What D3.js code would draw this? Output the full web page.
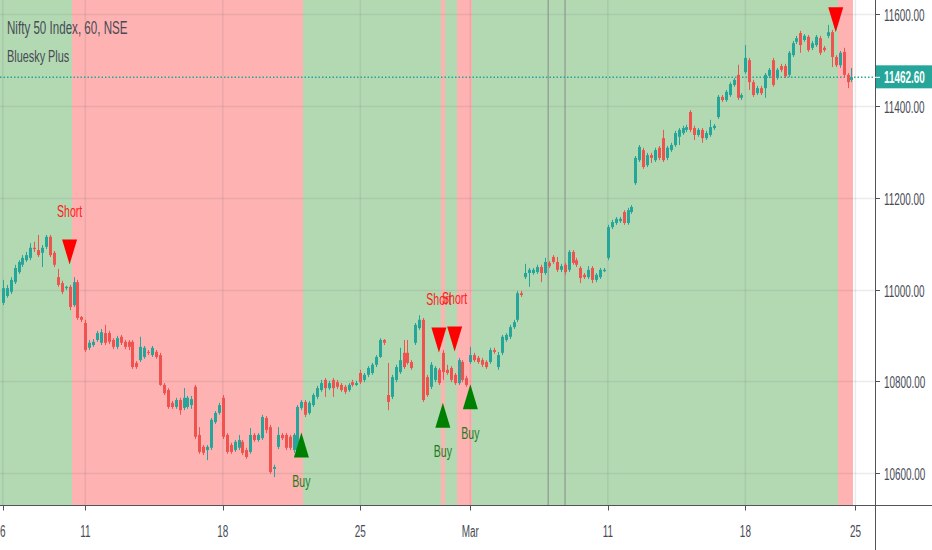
<!DOCTYPE html>
<html><head><meta charset="utf-8">
<script src="https://cdn.jsdelivr.net/npm/d3@7"></script>
<style>
body{margin:0;background:#fff;}
svg{display:block;font-family:"Liberation Sans",Arial,sans-serif;}
</style>
</head><body><svg id="c" width="932" height="550"></svg>
<script>
// ---- data (hourly candles, NIFTY 50, 6 Feb - 22 Mar) ----
const open = [
10971,10986,10995,11016,11038,11054,11064,11069,11091,11086,
11080,11093,11115,11080,11027,11014,11003,11006,10966,11016,
10940,10927,10873,10879,10890,10884,10905,10905,10890,10875,
10897,10886,10886,10886,10840,10846,10853,10864,10857,10864,
10857,10792,10781,10753,10744,10759,10742,10744,10748,10788,
10683,10657,10650,10655,10711,10731,10764,10683,10661,10650,
10655,10668,10650,10646,10683,10672,10676,10720,10700,10609,
10657,10683,10683,10679,10650,10650,10742,10755,10731,10748,
10766,10781,10803,10785,10803,10798,10792,10788,10781,10798,
10792,10818,10803,10814,10818,10836,10853,10890,10770,10766,
10803,10820,10862,10862,10842,10884,10916,10934,10809,10788,
10803,10825,10862,10825,10829,10814,10796,10842,10807,10842,
10857,10851,10846,10842,10842,10868,10831,10862,10890,10897,
10918,10934,10992,11027,11036,11036,11038,11049,11036,11058,
11071,11060,11043,11054,11043,11082,11064,11047,11032,11027,
11047,11021,11027,11040,11069,11136,11145,11149,11169,11145,
11169,11232,11282,11304,11271,11293,11282,11309,11330,11287,
11304,11315,11333,11341,11348,11387,11352,11337,11348,11330,
11337,11352,11376,11420,11413,11424,11446,11468,11418,11474,
11500,11452,11428,11439,11439,11466,11500,11461,11487,11487,
11468,11511,11540,11559,11544,11551,11527,11533,11548,11527,
11553,11561,11507,11489,11518,11468,11457];
const high = [
11021,11010,11027,11054,11064,11075,11082,11101,11104,11119,
11097,11119,11119,11084,11045,11019,11008,11010,11027,11021,
10942,10934,10890,10892,10910,10914,10923,10910,10894,10899,
10901,10890,10890,10890,10844,10897,10877,10868,10877,10868,
10862,10796,10785,10757,10764,10764,10785,10768,10768,10792,
10700,10661,10661,10720,10735,10753,10770,10687,10666,10672,
10683,10672,10655,10698,10687,10687,10727,10724,10705,10618,
10700,10687,10687,10683,10687,10748,10759,10759,10757,10774,
10790,10803,10807,10801,10807,10803,10796,10792,10796,10803,
10801,10825,10818,10833,10840,10857,10894,10892,10840,10814,
10836,10873,10890,10890,10846,10927,10944,10938,10814,10842,
10833,10829,10868,10836,10833,10818,10851,10846,10812,10875,
10862,10855,10851,10846,10873,10873,10864,10901,10905,10923,
10934,10997,10997,11056,11047,11047,11054,11054,11069,11062,
11075,11071,11056,11058,11086,11086,11069,11051,11036,11051,
11051,11036,11047,11047,11141,11152,11158,11158,11173,11178,
11184,11291,11315,11309,11298,11298,11309,11313,11348,11313,
11320,11346,11352,11357,11359,11391,11357,11352,11352,11346,
11370,11361,11424,11424,11435,11452,11461,11490,11428,11533,
11505,11457,11444,11444,11472,11483,11505,11483,11492,11492,
11520,11542,11553,11564,11557,11555,11542,11555,11553,11531,
11577,11566,11511,11520,11527,11472,11483];
const low = [
10966,10982,10990,11012,11034,11049,11060,11064,11082,11071,
11049,11088,11071,11049,11006,10990,10999,10955,10962,10934,
10929,10864,10868,10875,10886,10879,10879,10881,10870,10870,
10879,10870,10868,10827,10827,10842,10849,10857,10853,10849,
10790,10770,10740,10740,10740,10727,10737,10740,10740,10674,
10642,10639,10628,10650,10707,10727,10674,10642,10642,10646,
10650,10639,10631,10642,10668,10668,10672,10687,10598,10591,
10652,10672,10650,10650,10644,10646,10737,10722,10727,10744,
10761,10777,10766,10781,10766,10783,10777,10772,10777,10788,
10790,10794,10798,10809,10814,10831,10851,10879,10737,10761,
10798,10816,10827,10836,10825,10879,10912,10755,10766,10783,
10798,10792,10803,10814,10798,10792,10792,10798,10788,10838,
10842,10838,10831,10827,10838,10860,10825,10857,10886,10892,
10914,10929,10984,11023,11006,11032,11034,11016,11032,11047,
11056,11038,11038,11032,11038,11054,11049,11014,11023,11023,
11014,11016,11023,11038,11064,11132,11141,11145,11141,11141,
11165,11228,11278,11263,11267,11276,11278,11282,11278,11282,
11300,11311,11315,11337,11343,11343,11326,11333,11320,11326,
11333,11348,11372,11409,11409,11420,11442,11413,11413,11470,
11435,11420,11424,11424,11418,11461,11442,11457,11474,11461,
11463,11507,11535,11516,11540,11518,11522,11529,11511,11518,
11548,11485,11485,11483,11463,11439,11452];
const close = [
11003,11003,11021,11047,11060,11069,11075,11091,11088,11075,
11091,11115,11075,11054,11010,10995,11006,10962,11016,10938,
10934,10868,10884,10886,10905,10907,10884,10886,10875,10894,
10884,10875,10875,10831,10831,10875,10873,10862,10873,10853,
10792,10774,10744,10744,10759,10737,10764,10764,10761,10679,
10646,10644,10657,10716,10731,10748,10679,10646,10646,10668,
10672,10644,10635,10683,10672,10683,10722,10694,10602,10613,
10683,10676,10655,10655,10683,10744,10755,10727,10753,10770,
10785,10796,10785,10796,10785,10788,10781,10777,10792,10792,
10796,10798,10814,10829,10836,10853,10890,10884,10755,10809,
10831,10846,10831,10840,10829,10923,10934,10759,10770,10836,
10829,10796,10820,10818,10803,10796,10846,10803,10792,10857,
10846,10842,10836,10831,10868,10864,10857,10897,10901,10918,
10929,10992,10988,11036,11043,11043,11049,11036,11060,11051,
11060,11043,11051,11038,11082,11058,11054,11025,11027,11043,
11021,11032,11043,11043,11136,11147,11154,11154,11145,11173,
11180,11287,11311,11267,11293,11287,11304,11287,11282,11309,
11315,11341,11348,11352,11354,11348,11337,11348,11330,11341,
11354,11357,11420,11413,11431,11448,11457,11418,11424,11505,
11452,11424,11439,11428,11468,11479,11446,11479,11479,11465,
11516,11537,11548,11533,11553,11522,11537,11551,11516,11522,
11561,11507,11489,11516,11468,11452,11462.6];

const dayTickIndex  = [0, 21, 56, 91, 119, 154, 189, 217];
const dayTickLabels = ["6", "11", "18", "25", "Mar", "11", "18", "25"];
const priceTicks = [10600, 10800, 11000, 11200, 11400, 11600];
const lastPrice = 11462.60;

// Bluesky Plus state background (bar index ranges)
const bandStart = [-2, 17.5, 76.5, 111.5, 112.5, 115.5, 119.5, 212.5];
const bandEnd   = [17.5, 76.5, 111.5, 112.5, 115.5, 119.5, 212.5, 216.5];
const bandState = ["long", "short", "long", "short", "long", "short", "long", "short"];

// signals
const shortBars   = [17, 111, 115, 212];
const shortPrices = [11082, 10890, 10892, 11588];
const buyBars     = [76, 112, 119];
const buyPrices   = [10661, 10726, 10766];

// session separator lines (bar index)
const sessionLines = [138.8, 143.1];

const title = "Nifty 50 Index, 60, NSE";
const subtitle = "Bluesky Plus";

// ---- layout / style ----
const W = 932, H = 550;
const plotRight = 875, plotBottom = 505.5;
const C = {
  up: "#26a69a", down: "#ef5350",
  long: "rgb(179,217,179)", short: "rgb(255,178,178)",
  grid: "rgba(90,100,110,0.13)", axis: "#50535e", text: "#474b55",
  sell: "#ff0000", buy: "#008000", buyText: "#1e7b1e", shortText: "#ff2020"
};
const SX = 0.62; // horizontal squeeze of glyphs in the original

const svg = d3.select("#c");
const x = d3.scaleLinear().domain([0, 217]).range([2.8, 2.8 + 3.929 * 217]);
const y = d3.scaleLinear().domain([10600, 11600]).range([473, 14.3]);

svg.append("rect").attr("width", W).attr("height", H).attr("fill", "#fff");
svg.append("clipPath").attr("id", "pc").append("rect")
  .attr("x", 0).attr("y", 0).attr("width", plotRight).attr("height", plotBottom);
const plot = svg.append("g").attr("clip-path", "url(#pc)");

// backgrounds
plot.selectAll("rect.band").data(bandStart).join("rect").attr("class", "band")
  .attr("x", (d) => Math.round(x(d)))
  .attr("width", (d, i) => Math.round(x(bandEnd[i])) - Math.round(x(d)))
  .attr("y", 0).attr("height", plotBottom)
  .attr("shape-rendering", "crispEdges")
  .attr("fill", (d, i) => bandState[i] === "long" ? C.long : C.short);

// grid
plot.selectAll("line.hg").data(priceTicks).join("line").attr("class", "hg")
  .attr("x1", 0).attr("x2", plotRight)
  .attr("y1", (d) => Math.round(y(d)) + 0.5).attr("y2", (d) => Math.round(y(d)) + 0.5)
  .attr("stroke", C.grid).attr("stroke-width", 1.5);
plot.selectAll("line.vg").data(dayTickIndex).join("line").attr("class", "vg")
  .attr("x1", (d) => x(d)).attr("x2", (d) => x(d))
  .attr("y1", 0).attr("y2", plotBottom)
  .attr("stroke", C.grid).attr("stroke-width", 1.5);

// session lines
plot.selectAll("line.sl").data(sessionLines).join("line").attr("class", "sl")
  .attr("x1", (d) => x(d)).attr("x2", (d) => x(d))
  .attr("y1", 0).attr("y2", plotBottom)
  .attr("stroke", "#8a8a8a").attr("stroke-width", 1);

// last price dotted line
plot.append("line")
  .attr("x1", 0).attr("x2", plotRight)
  .attr("y1", y(lastPrice)).attr("y2", y(lastPrice))
  .attr("stroke", C.up).attr("stroke-width", 1.5).attr("stroke-dasharray", "1.5,2");

// candles
const idx = d3.range(close.length);
const col = (i) => close[i] >= open[i] ? C.up : C.down;
plot.selectAll("line.wick").data(idx).join("line").attr("class", "wick")
  .attr("x1", (i) => Math.round(x(i)) + 0.5).attr("x2", (i) => Math.round(x(i)) + 0.5)
  .attr("y1", (i) => y(high[i])).attr("y2", (i) => y(low[i]))
  .attr("stroke", col).attr("stroke-width", 1);
plot.selectAll("rect.body").data(idx).join("rect").attr("class", "body")
  .attr("x", (i) => Math.round(x(i)) - 1)
  .attr("width", 3)
  .attr("y", (i) => y(Math.max(open[i], close[i])))
  .attr("height", (i) => Math.max(1, Math.abs(y(open[i]) - y(close[i]))))
  .attr("fill", col);

// text helper (squeezed glyphs)
function label(g, tx, ty, str, size, fill, anchor, sx, weight) {
  return g.append("text")
    .attr("transform", `translate(${tx},${ty}) scale(${sx},1)`)
    .attr("text-anchor", anchor || "start")
    .attr("font-size", size).attr("fill", fill)
    .attr("font-weight", weight || "normal")
    .text(str);
}

// signals
const TW = 7.5, TH = 12.5;
shortBars.forEach((b, k) => {
  const cx = x(b), cy = y(shortPrices[k]);
  plot.append("path")
    .attr("d", `M${cx - TW},${cy - TH}L${cx + TW},${cy - TH}L${cx},${cy + TH}Z`)
    .attr("fill", C.sell);
  if (cy - 35 - 14 > 0) label(plot, cx, cy - 35, "Short", 17, C.shortText, "middle", SX);
});
buyBars.forEach((b, k) => {
  const cx = x(b), cy = y(buyPrices[k]);
  plot.append("path")
    .attr("d", `M${cx},${cy - TH}L${cx - TW},${cy + TH}L${cx + TW},${cy + TH}Z`)
    .attr("fill", C.buy);
  label(plot, cx, cy + 42, "Buy", 17, C.buyText, "middle", SX);
});

// titles
label(svg, 7, 34, title, 18, C.text, "start", 0.645);
label(svg, 7, 62, subtitle, 17, C.text, "start", 0.64);

// axes
svg.append("line").attr("x1", 0).attr("x2", W).attr("y1", plotBottom).attr("y2", plotBottom)
  .attr("stroke", C.axis).attr("stroke-width", 1);
svg.append("line").attr("x1", plotRight + 0.5).attr("x2", plotRight + 0.5).attr("y1", 0).attr("y2", H)
  .attr("stroke", C.axis).attr("stroke-width", 1);

// y ticks + labels
priceTicks.forEach((p) => {
  const ty = Math.round(y(p)) + 0.5;
  svg.append("line").attr("x1", plotRight).attr("x2", plotRight + 5)
    .attr("y1", ty).attr("y2", ty).attr("stroke", C.axis);
  label(svg, 884, ty + 6, d3.format(".2f")(p), 16, C.text, "start", SX);
});
// x ticks + labels
dayTickIndex.forEach((d, k) => {
  const tx = Math.round(x(d)) + 0.5;
  svg.append("line").attr("x1", tx).attr("x2", tx)
    .attr("y1", plotBottom).attr("y2", plotBottom + 5).attr("stroke", C.axis);
  label(svg, x(d), 537, dayTickLabels[k], 16, C.text, "middle", SX);
});

// last price label
const ly = y(lastPrice);
svg.append("rect").attr("x", plotRight + 1).attr("y", ly - 12).attr("width", W - plotRight - 1).attr("height", 23)
  .attr("fill", C.up);
svg.append("line").attr("x1", plotRight).attr("x2", plotRight + 5)
  .attr("y1", ly).attr("y2", ly).attr("stroke", "#fff");
label(svg, 884, ly + 6, d3.format(".2f")(lastPrice), 16, "#fff", "start", SX, "bold");
</script></body></html>
